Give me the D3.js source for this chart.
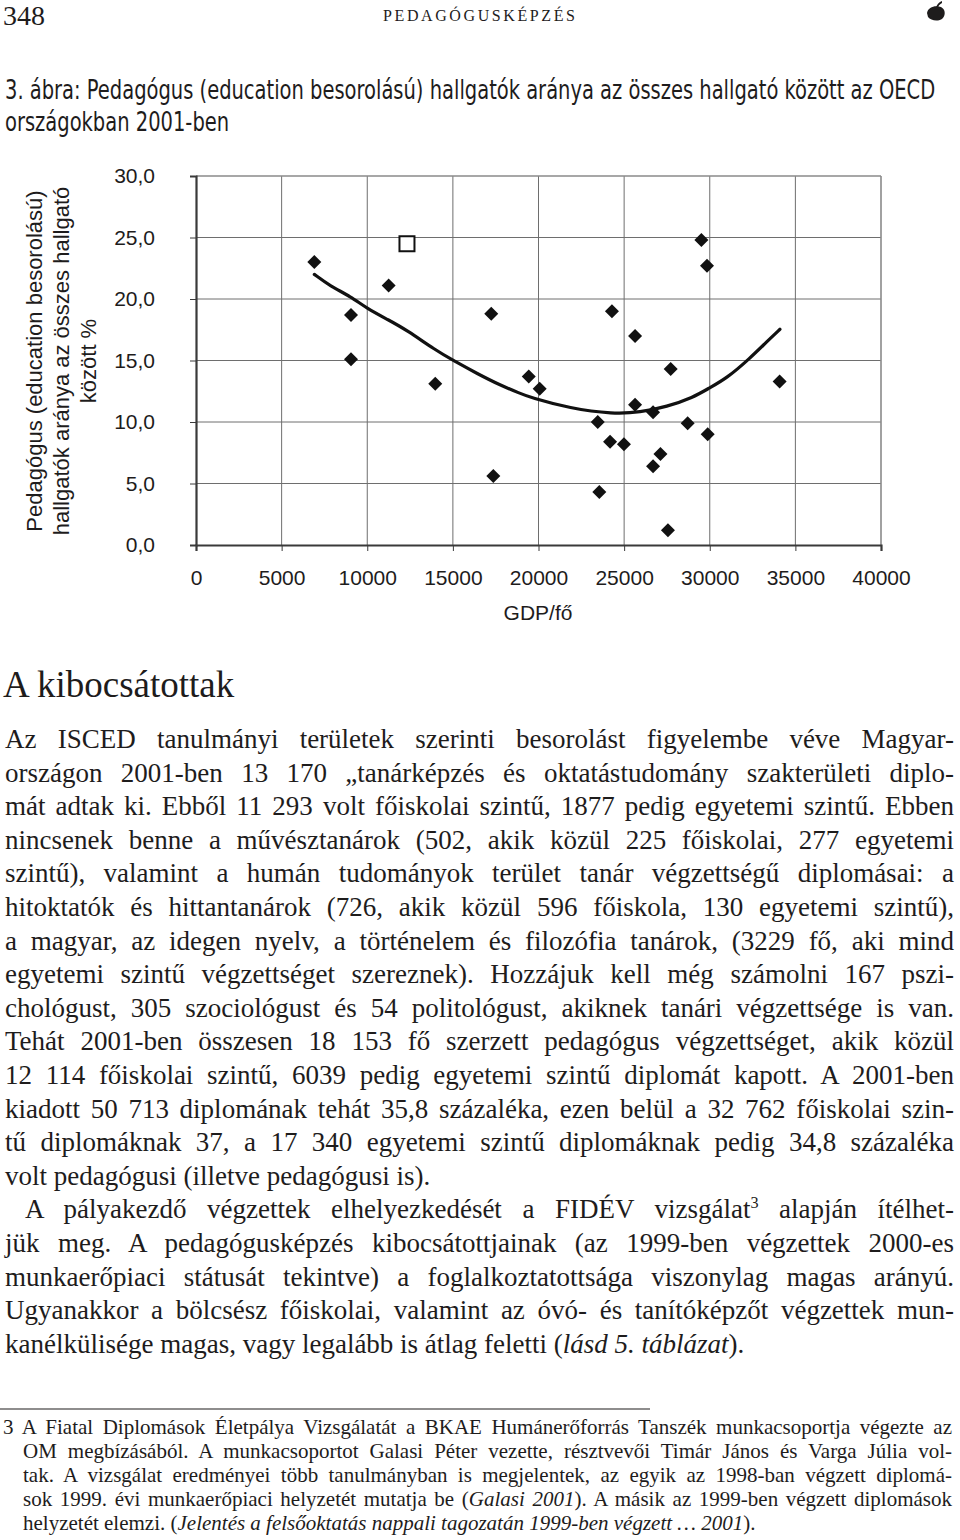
<!DOCTYPE html>
<html>
<head>
<meta charset="utf-8">
<script src="https://cdn.jsdelivr.net/npm/d3@7"></script>
<style>
  html, body { margin: 0; padding: 0; background: #fff; }
  svg { display: block; }
</style>
</head>
<body>
<div id="page"></div>
<script>
// ---------------- DATA ----------------
const gdpPerCapita = [6910, 9050, 9050, 11250, 13970, 17240, 17360, 19430, 20070, 23460, 23550, 24180, 24290, 24990, 25640, 25640, 26690, 26690, 27120, 27560, 27720, 28710, 29510, 29840, 29880, 34080];
const educationShare = [23.0, 18.7, 15.1, 21.1, 13.1, 18.8, 5.6, 13.7, 12.7, 10.0, 4.3, 8.4, 19.0, 8.2, 17.0, 11.4, 10.8, 6.4, 7.4, 1.2, 14.3, 9.9, 24.8, 22.7, 9.0, 13.3];
const hungaryGdp = [12320];
const hungaryShare = [24.5];
const trendGdp = [6910, 7825, 9050, 9970, 11250, 12300, 13975, 15070, 16390, 17750, 18920, 19500, 21840, 24370, 25930, 27490, 29040, 29940, 30990, 32350, 33330, 34100];
const trendShare = [22.0, 21.06, 20.19, 19.24, 18.29, 17.48, 15.85, 14.96, 13.96, 13.0, 12.33, 12.0, 11.1, 10.65, 10.79, 11.24, 12.0, 12.74, 13.55, 15.18, 16.53, 17.54];
const xTickValues = [0, 5000, 10000, 15000, 20000, 25000, 30000, 35000, 40000];
const yTickValues = [0, 5, 10, 15, 20, 25, 30];
const yTickLabels = ["0,0", "5,0", "10,0", "15,0", "20,0", "25,0", "30,0"];
const xTickLabels = ["0", "5000", "10000", "15000", "20000", "25000", "30000", "35000", "40000"];

const pageNumber = "348";
const runningHead = "PEDAGÓGUSKÉPZÉS";
const captionLines = ["3. ábra: Pedagógus (education besorolású) hallgatók aránya az összes hallgató között az OECD", "országokban 2001-ben"];
const yTitleLines = ["Pedagógus (education besorolású)", "hallgatók aránya az összes hallgató", "között %"];
const xTitle = "GDP/fő";
const sectionHeading = "A kibocsátottak";
const bodyLines = [
  "Az ISCED tanulmányi területek szerinti besorolást figyelembe véve Magyar-",
  "országon 2001-ben 13 170 „tanárképzés és oktatástudomány szakterületi diplo-",
  "mát adtak ki. Ebből 11 293 volt főiskolai szintű, 1877 pedig egyetemi szintű. Ebben",
  "nincsenek benne a művésztanárok (502, akik közül 225 főiskolai, 277 egyetemi",
  "szintű), valamint a humán tudományok terület tanár végzettségű diplomásai: a",
  "hitoktatók és hittantanárok (726, akik közül 596 főiskola, 130 egyetemi szintű),",
  "a magyar, az idegen nyelv, a történelem és filozófia tanárok, (3229 fő, aki mind",
  "egyetemi szintű végzettséget szereznek). Hozzájuk kell még számolni 167 pszi-",
  "chológust, 305 szociológust és 54 politológust, akiknek tanári végzettsége is van.",
  "Tehát 2001-ben összesen 18 153 fő szerzett pedagógus végzettséget, akik közül",
  "12 114 főiskolai szintű, 6039 pedig egyetemi szintű diplomát kapott. A 2001-ben",
  "kiadott 50 713 diplomának tehát 35,8 százaléka, ezen belül a 32 762 főiskolai szin-",
  "tű diplomáknak 37, a 17 340 egyetemi szintű diplomáknak pedig 34,8 százaléka",
  "volt pedagógusi (illetve pedagógusi is).",
  "A pályakezdő végzettek elhelyezkedését a FIDÉV vizsgálat^3^ alapján ítélhet-",
  "jük meg. A pedagógusképzés kibocsátottjainak (az 1999-ben végzettek 2000-es",
  "munkaerőpiaci státusát tekintve) a foglalkoztatottsága viszonylag magas arányú.",
  "Ugyanakkor a bölcsész főiskolai, valamint az óvó- és tanítóképzőt végzettek mun-",
  "kanélkülisége magas, vagy legalább is átlag feletti (_lásd 5. táblázat_)."
];
const footnoteLines = [
  "3 A Fiatal Diplomások Életpálya Vizsgálatát a BKAE Humánerőforrás Tanszék munkacsoportja végezte az",
  "OM megbízásából. A munkacsoportot Galasi Péter vezette, résztvevői Timár János és Varga Júlia vol-",
  "tak. A vizsgálat eredményei több tanulmányban is megjelentek, az egyik az 1998-ban végzett diplomá-",
  "sok 1999. évi munkaerőpiaci helyzetét mutatja be (_Galasi 2001_). A másik az 1999-ben végzett diplomások",
  "helyzetét elemzi. (_Jelentés a felsőoktatás nappali tagozatán 1999-ben végzett … 2001_)."
];

// ---------------- LAYOUT ----------------
const W = 960, H = 1540;
const ink = "#1e1c1c";
const svg = d3.select("#page").append("svg").attr("width", W).attr("height", H);
svg.append("rect").attr("width", W).attr("height", H).attr("fill", "#fff");

// Header
svg.append("text").attr("x", 3).attr("y", 25).attr("font-family", "Liberation Serif, serif")
  .attr("font-size", 28).attr("fill", ink).text(pageNumber);
const rh = svg.append("text").attr("x", 383).attr("y", 21).attr("font-family", "Liberation Serif, serif")
  .attr("font-size", 16).attr("fill", ink).text(runningHead);
{
  const w0 = rh.node().getComputedTextLength();
  rh.attr("letter-spacing", (192 - w0) / (runningHead.length - 1));
}
// small ornament
svg.append("path").attr("fill", ink)
  .attr("d", "M927,13 C928,7 935,5 941,7 C945,9 946,14 943,18 C939,22 931,21 928,17 Z M936,8 C937,4 939,2 942,1 L942,3 C940,4 938,6 937,9 Z");

// Caption: condensed by a horizontal scale so line 1 spans the reference width
const capFont = "'Liberation Sans Narrow', 'DejaVu Sans Condensed', sans-serif";
const capG = svg.append("g");
const capTexts = captionLines.map((t, i) => capG.append("text").attr("x", 0).attr("y", 99 + i * 32)
  .attr("font-family", capFont).attr("font-size", 27).attr("fill", ink).text(t));
{
  const w0 = capTexts[0].node().getComputedTextLength();
  const sx = 931 / w0;
  capG.attr("transform", `translate(5,0) scale(${sx},1)`);
}

// ---------------- CHART ----------------
const x = d3.scaleLinear().domain([0, 40000]).range([196, 881]);
const y = d3.scaleLinear().domain([0, 30]).range([545, 176]);
const chartFont = "'Liberation Sans', Arial, sans-serif";
const g = svg.append("g");

// gridlines
g.selectAll("line.vgrid").data(xTickValues.slice(1, -1)).join("line")
  .attr("x1", d => x(d)).attr("x2", d => x(d)).attr("y1", y(0)).attr("y2", y(30))
  .attr("stroke", "#6e6e6e").attr("stroke-width", 1);
g.selectAll("line.hgrid").data(yTickValues.slice(1, -1)).join("line")
  .attr("x1", x(0)).attr("x2", x(40000)).attr("y1", d => y(d)).attr("y2", d => y(d))
  .attr("stroke", "#6e6e6e").attr("stroke-width", 1);
// top and right border (lighter)
g.append("line").attr("x1", x(0)).attr("x2", x(40000)).attr("y1", y(30)).attr("y2", y(30))
  .attr("stroke", "#8a8a8a").attr("stroke-width", 1.6);
g.append("line").attr("x1", x(40000)).attr("x2", x(40000)).attr("y1", y(30)).attr("y2", y(0))
  .attr("stroke", "#8a8a8a").attr("stroke-width", 1.6);

// axes
const yAxis = d3.axisLeft(y).tickValues(yTickValues).tickSize(6).tickPadding(35)
  .tickFormat((d, i) => yTickLabels[i]);
const xAxis = d3.axisBottom(x).tickValues(xTickValues).tickSize(6).tickPadding(19)
  .tickFormat((d, i) => xTickLabels[i]);
const ya = g.append("g").attr("transform", `translate(${x(0)},0)`).call(yAxis);
const xa = g.append("g").attr("transform", `translate(0,${y(0)})`).call(xAxis);
[ya, xa].forEach(a => {
  a.select(".domain").attr("stroke", "#3a3a3a").attr("stroke-width", 2.2);
  a.selectAll(".tick line").attr("stroke", "#3a3a3a").attr("stroke-width", 1);
  a.selectAll(".tick text").attr("font-family", chartFont).attr("font-size", 21).attr("fill", ink);
});

// axis titles
const yt = svg.append("text").attr("transform", "translate(42,361) rotate(-90)")
  .attr("text-anchor", "middle").attr("font-family", chartFont).attr("font-size", 22).attr("fill", ink);
yTitleLines.forEach((t, i) => {
  yt.append("tspan").attr("x", 0).attr("y", i * 27).text(t);
});
svg.append("text").attr("x", 538).attr("y", 620).attr("text-anchor", "middle")
  .attr("font-family", chartFont).attr("font-size", 21).attr("fill", ink).text(xTitle);

// trend line
const trend = trendGdp.map((d, i) => [d, trendShare[i]]);
g.append("path").datum(trend)
  .attr("d", d3.line().x(d => x(d[0])).y(d => y(d[1])).curve(d3.curveBasis))
  .attr("fill", "none").attr("stroke", "#111").attr("stroke-width", 3.2).attr("stroke-linecap", "round");

// diamonds
const pts = gdpPerCapita.map((d, i) => [d, educationShare[i]]);
g.selectAll("path.pt").data(pts).join("path")
  .attr("d", d3.symbol(d3.symbolSquare, 98)())
  .attr("transform", d => `translate(${x(d[0])},${y(d[1])}) rotate(45)`)
  .attr("fill", "#111");
// Hungary
const hu = hungaryGdp.map((d, i) => [d, hungaryShare[i]]);
g.selectAll("path.hu").data(hu).join("path")
  .attr("d", d3.symbol(d3.symbolSquare, 225)())
  .attr("transform", d => `translate(${x(d[0])},${y(d[1])})`)
  .attr("fill", "#fff").attr("stroke", "#111").attr("stroke-width", 2);

// ---------------- TEXT ----------------
const serif = "'Liberation Serif', 'Times New Roman', serif";
svg.append("text").attr("x", 3).attr("y", 697).attr("font-family", serif)
  .attr("font-size", 37).attr("fill", ink).text(sectionHeading);

function addRich(textSel, str, fs) {
  const parts = str.split(/(_[^_]+_|\^[^^]+\^)/).filter(p => p.length);
  let pending = 0;
  parts.forEach(p => {
    let ts;
    if (p[0] === "_") {
      ts = textSel.append("tspan").attr("font-style", "italic").text(p.slice(1, -1));
    } else if (p[0] === "^") {
      ts = textSel.append("tspan").attr("font-size", fs * 0.6).text(p.slice(1, -1));
      ts.attr("dy", pending - fs * 0.4);
      pending = fs * 0.4;
      return;
    } else {
      ts = textSel.append("tspan").text(p);
    }
    if (pending) { ts.attr("dy", pending); pending = 0; }
  });
}
function justify(textSel, target) {
  const node = textSel.node();
  const w = node.getComputedTextLength();
  const spaces = (node.textContent.match(/ /g) || []).length;
  if (spaces > 0) textSel.attr("word-spacing", (target - w) / spaces);
}

const bodyFs = 27;
const noJustifyBody = [13, 18];
const indentBody = [14];
bodyLines.forEach((t, i) => {
  const x0 = indentBody.includes(i) ? 25 : 5;
  const ts = svg.append("text").attr("x", x0).attr("y", 748 + i * 33.6)
    .attr("font-family", serif).attr("font-size", bodyFs).attr("fill", ink);
  addRich(ts, t, bodyFs);
  if (!noJustifyBody.includes(i)) justify(ts, 954 - x0);
});

// footnote rule
svg.append("line").attr("x1", 0).attr("x2", 650).attr("y1", 1409).attr("y2", 1409)
  .attr("stroke", ink).attr("stroke-width", 1.2);
const fnFs = 21;
footnoteLines.forEach((t, i) => {
  const x0 = i === 0 ? 3 : 23;
  const ts = svg.append("text").attr("x", x0).attr("y", 1434 + i * 24)
    .attr("font-family", serif).attr("font-size", fnFs).attr("fill", ink);
  addRich(ts, t, fnFs);
  if (i < footnoteLines.length - 1) justify(ts, 952 - x0);
});
</script>
</body>
</html>
